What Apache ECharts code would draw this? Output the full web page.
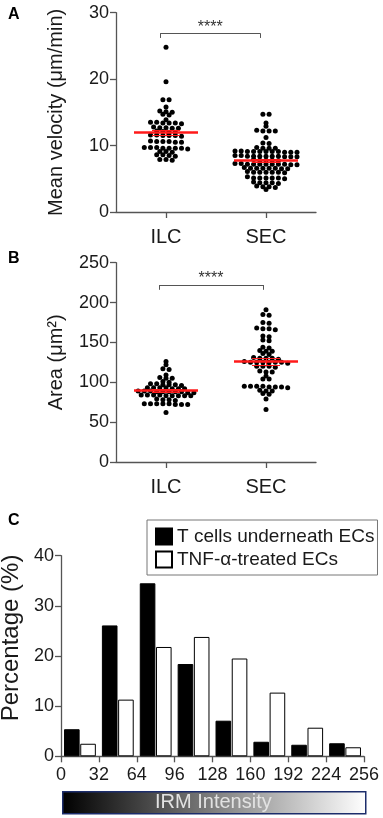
<!DOCTYPE html>
<html>
<head>
<meta charset="utf-8">
<script src="https://cdn.jsdelivr.net/npm/echarts@6/dist/echarts.min.js"></script>
<style>
  html, body { margin: 0; padding: 0; background: #fff; }
  #chart { width: 383px; height: 818px; }
</style>
</head>
<body>
<div id="chart"></div>
<script>
// ---- data ----
let groups = ['ILC', 'SEC'];

// A: mean velocity (um/min), one value per cell
let velocityILC = [24.8, 19.6, 16.9, 16.9, 15.8, 15.2, 15.1, 15.0, 14.7, 14.6, 13.9,
    13.5, 13.5, 13.4, 13.4, 13.4, 13.3, 12.8, 12.7, 12.7, 12.6, 12.6,
    12.2, 12.1, 12.0, 12.0, 11.6, 11.6, 11.5, 11.5, 11.5, 11.4,
    10.7, 10.6, 10.6, 10.6, 10.5, 10.5, 9.7, 9.7, 9.7, 9.6, 9.6, 9.6, 9.6, 9.5,
    9.1, 9.1, 9.0, 8.6, 8.6, 8.5, 8.4, 7.9, 7.9, 7.8];
let velocitySEC = [14.7, 14.7, 13.4, 12.9, 12.3, 12.2, 12.2, 12.2, 11.2, 10.4, 10.3,
    9.7, 9.6, 9.6, 9.6,
    9.2, 9.1, 9.1, 9.1, 9.1, 9.1, 9.0, 9.0, 9.1, 9.2, 9.0,
    8.5, 8.4, 8.4, 8.4, 8.4, 8.3, 8.3, 8.4, 8.4, 8.5, 8.3,
    7.9, 7.8, 7.8, 7.8, 7.7,
    7.3, 7.2, 7.2, 7.2, 7.2, 7.2, 7.1, 7.1, 7.2, 7.2, 7.3,
    6.7, 6.6, 6.6, 6.6, 6.6, 6.5, 6.5, 6.6,
    6.1, 6.0, 6.0, 6.0, 6.0, 5.9, 6.0,
    5.3, 5.1, 5.1, 5.1, 5.1, 5.1, 5.0,
    4.5, 4.4, 4.4, 4.4, 4.3, 3.9, 3.8, 3.8, 3.7, 3.4];

// B: area (um^2)
let areaILC = [126, 122, 117, 116, 109, 106, 105, 105, 101, 100,
    98, 98, 97, 97, 97, 96, 93, 93, 93, 93, 92, 92, 92,
    89, 89, 89, 88, 88, 88, 88, 88, 87, 87,
    84, 84, 84, 84, 83, 83, 83, 83, 83,
    79, 78, 78, 77, 73, 73, 73, 73, 73, 72, 72, 72, 62];
let areaSEC = [191, 185, 184, 175, 174, 168, 167, 167, 166, 158, 157, 153, 152,
    144, 143, 140, 139, 139, 136, 135, 131, 130, 130, 130, 129,
    126, 125, 125, 125, 125, 125, 125, 124, 120, 120, 120, 119,
    114, 113, 113, 108, 104, 104,
    95, 95, 95, 95, 94, 94, 94, 93, 90, 89, 89, 86, 85, 79, 66];

// C: IRM intensity histogram (%)
let irmBins = ['0-32', '32-64', '64-96', '96-128', '128-160', '160-192', '192-224', '224-256'];
let tCells = [5.4, 26.1, 34.5, 18.4, 7.1, 2.9, 2.3, 2.6];
let tnfECs = [2.5, 11.3, 21.8, 23.8, 19.5, 12.7, 5.7, 1.8];

// ---- helpers ----
let font = "'Liberation Sans', Arial, sans-serif";
let txt = '#1a1a1a';

// prism-like column scatter: values close together share a row, spread sideways
function swarm(values, center, bin, dx) {
    let sorted = values.slice().sort((a, b) => b - a);
    let out = [];
    let row = [];
    let flush = () => {
        row.forEach((v, i) => out.push([center + (i - (row.length - 1) / 2) * dx, v]));
        row = [];
    };
    sorted.forEach(v => {
        if (row.length && row[0] - v > bin) flush();
        row.push(v);
    });
    flush();
    return out;
}

function stats(v) {
    let n = v.length;
    let m = v.reduce((a, b) => a + b, 0) / n;
    let sd = Math.sqrt(v.reduce((a, b) => a + (b - m) * (b - m), 0) / (n - 1));
    return { mean: m, sem: sd / Math.sqrt(n) };
}

// mean (thick) + sem bars (thin)
function meanLines(v, c) {
    let s = stats(v);
    let hi = s.mean + s.sem, lo = s.mean - s.sem;
    return [
        [{ coord: [c - 0.32, s.mean], lineStyle: { width: 2.5 } }, { coord: [c + 0.32, s.mean] }],
        [{ coord: [c - 0.14, hi] }, { coord: [c + 0.14, hi] }],
        [{ coord: [c - 0.14, lo] }, { coord: [c + 0.14, lo] }],
        [{ coord: [c, lo] }, { coord: [c, hi] }]
    ];
}

function bracket(x0, x1, y, leg) {
    let ls = { color: '#555', width: 1, type: 'solid' };
    return [
        [{ coord: [x0, leg], lineStyle: ls }, { coord: [x0, y] }],
        [{ coord: [x0, y], lineStyle: ls, label: { show: true, position: 'middle', formatter: '****', fontSize: 16, color: '#333', distance: -2 } }, { coord: [x1, y] }],
        [{ coord: [x1, y], lineStyle: ls }, { coord: [x1, leg] }]
    ];
}

let axisLine = { show: true, lineStyle: { color: '#555', width: 1.3 } };
let tick = { show: true, length: 6, lineStyle: { color: '#555', width: 1.3 } };

function catAxis(gi) {
    return {
        gridIndex: gi, type: 'category', data: groups, position: 'bottom',
        axisLine: axisLine,
        axisTick: { show: true, alignWithLabel: true, length: 6, lineStyle: { color: '#555', width: 1.3 } },
        axisLabel: { fontSize: 20, color: txt, margin: 15, fontFamily: font }
    };
}
function posAxis(gi) {
    return { gridIndex: gi, type: 'value', min: 0.5, max: 2.5, show: false, position: 'top' };
}
function valAxis(gi, max, step, name, gap, nameStyle) {
    return {
        gridIndex: gi, type: 'value', min: 0, max: max, interval: step,
        name: name, nameLocation: 'middle', nameGap: gap,
        nameTextStyle: Object.assign({ fontSize: 20, color: txt, fontFamily: font }, nameStyle || {}),
        axisLine: axisLine, axisTick: tick,
        axisLabel: { fontSize: 18, color: txt, margin: 7, fontFamily: font },
        splitLine: { show: false }
    };
}

function dots(name, values, c, xi, yi, bin, extra) {
    return {
        name: name, type: 'scatter', xAxisIndex: xi, yAxisIndex: yi,
        data: swarm(values, c, bin, 0.062),
        symbolSize: 5,
        itemStyle: { color: '#000', opacity: 1 },
        markLine: {
            silent: true, symbol: 'none', z: 5,
            label: { show: false },
            lineStyle: { color: '#ff1a1a', width: 1, type: 'solid' },
            data: meanLines(values, c).concat(extra || [])
        }
    };
}

let chart = echarts.init(document.getElementById('chart'));

let option = {
    animation: false,
    textStyle: { fontFamily: font },
    title: [
        { text: 'A', left: 8, top: 7, padding: 0, textStyle: { fontSize: 16, fontWeight: 'bold', color: '#000', fontFamily: font } },
        { text: 'B', left: 8, top: 251, padding: 0, textStyle: { fontSize: 16, fontWeight: 'bold', color: '#000', fontFamily: font } },
        { text: 'C', left: 8, top: 513, padding: 0, textStyle: { fontSize: 16, fontWeight: 'bold', color: '#000', fontFamily: font } }
    ],
    legend: {
        data: ['T cells underneath ECs', 'TNF-α-treated ECs'],
        orient: 'vertical', left: 147, top: 520,
        itemWidth: 16, itemHeight: 16, itemGap: 4,
        padding: [7, 3, 6, 8],
        borderColor: '#777', borderWidth: 1,
        icon: 'rect',
        textStyle: { fontSize: 19, lineHeight: 16, color: txt, fontFamily: font }
    },
    grid: [
        { left: 116, top: 12.7, width: 200, height: 199.3, containLabel: false, outerBoundsMode: 'none' },
        { left: 116, top: 262.7, width: 200, height: 199.3, containLabel: false, outerBoundsMode: 'none' },
        { left: 61, top: 555.7, width: 303, height: 200.6, containLabel: false, outerBoundsMode: 'none' }
    ],
    xAxis: [
        catAxis(0), posAxis(0),
        catAxis(1), posAxis(1),
        { gridIndex: 2, type: 'category', data: irmBins, show: false, position: 'top' },
        {
            gridIndex: 2, type: 'value', min: 0, max: 256, interval: 32, position: 'bottom',
            axisLine: axisLine, axisTick: tick,
            axisLabel: { fontSize: 18, color: txt, margin: 10, fontFamily: font },
            splitLine: { show: false }
        }
    ],
    yAxis: [
        valAxis(0, 30, 10, 'Mean velocity (μm/min)', 50),
        valAxis(1, 250, 50, 'Area (μm²)', 50),
        valAxis(2, 40, 10, 'Percentage (%)', 33, { fontSize: 24, padding: [0, 0, 0, 36], width: 260, overflow: 'none' })
    ],
    series: [
        dots('ILC velocity', velocityILC, 1, 1, 0, 0.35, bracket(0.943, 1.943, 26.9, 26.2)),
        dots('SEC velocity', velocitySEC, 2, 1, 0, 0.35),
        dots('ILC area', areaILC, 1, 3, 1, 2.5, bracket(0.93, 1.97, 222, 216)),
        dots('SEC area', areaSEC, 2, 3, 1, 2.5),
        {
            name: 'T cells underneath ECs', type: 'bar', xAxisIndex: 4, yAxisIndex: 2,
            data: tCells, barGap: '4%', barCategoryGap: '16%',
            itemStyle: { color: '#000', borderColor: '#000', borderWidth: 1 }
        },
        {
            name: 'TNF-α-treated ECs', type: 'bar', xAxisIndex: 4, yAxisIndex: 2,
            data: tnfECs, barGap: '4%', barCategoryGap: '16%',
            itemStyle: { color: '#fff', borderColor: '#000', borderWidth: 1 }
        }
    ],
    graphic: [
        {
            type: 'rect', left: 62, top: 791,
            shape: { width: 303, height: 22 },
            style: {
                fill: new echarts.graphic.LinearGradient(0, 0, 1, 0, [
                    { offset: 0, color: '#000' },
                    { offset: 1, color: '#fff' }
                ]),
                stroke: '#1c2d6b', lineWidth: 1.5
            }
        },
        {
            type: 'text', left: 155, top: 792,
            style: { text: 'IRM Intensity', fill: '#e2e2e2', font: "20px 'Liberation Sans', Arial, sans-serif" }
        }
    ]
};

chart.setOption(option);
</script>
</body>
</html>
